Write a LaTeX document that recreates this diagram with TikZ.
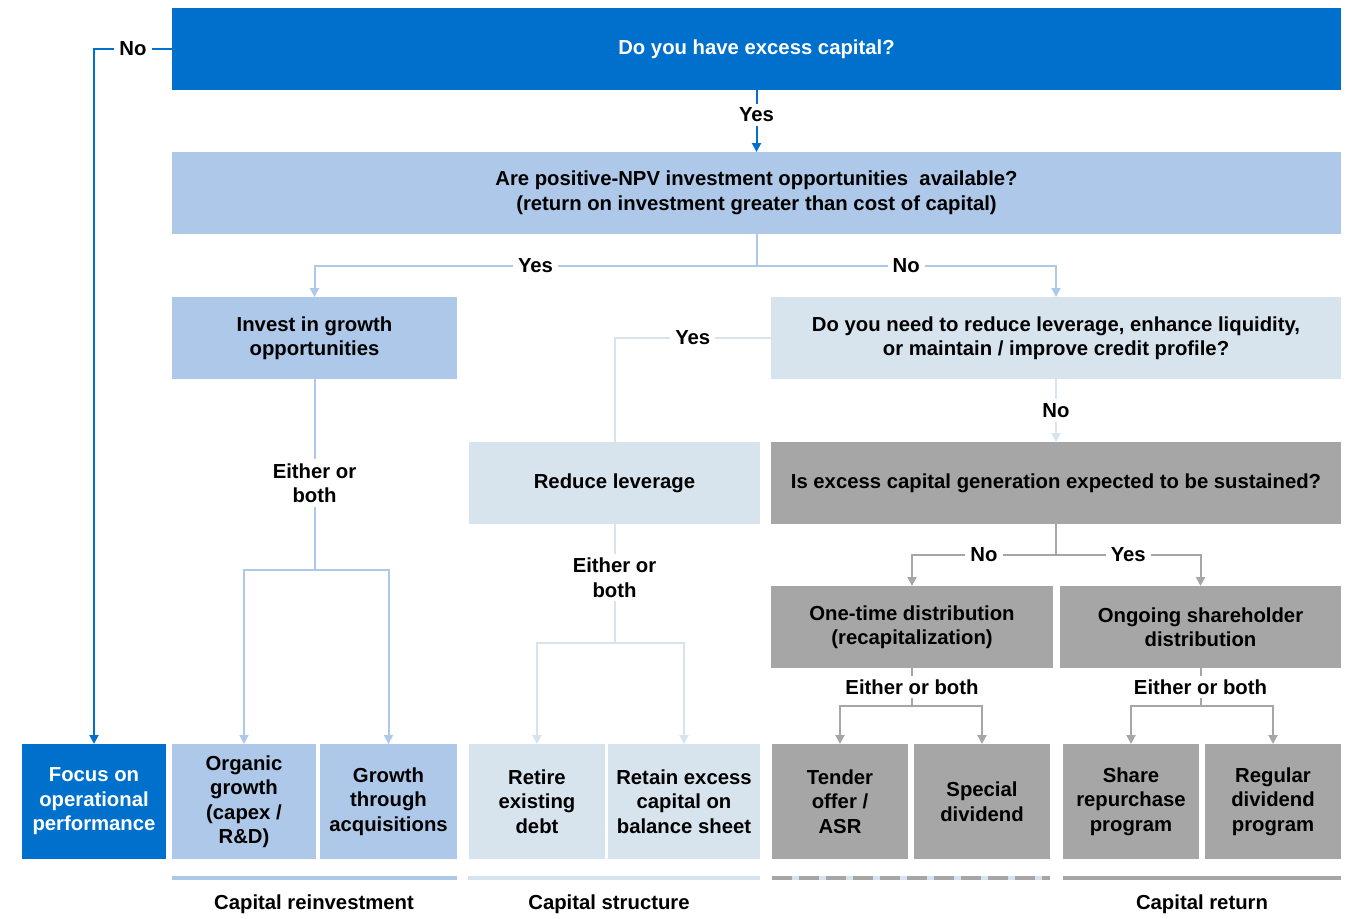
\documentclass[tikz,border=0pt]{standalone}
\usepackage{fontspec}
\setmainfont{Liberation Sans}
\usepackage{tikz}
\usetikzlibrary{arrows.meta,positioning,calc}
\definecolor{capblue}{RGB}{0,112,205}
\definecolor{capmidblue}{RGB}{173,200,232}
\definecolor{cappaleblue}{RGB}{215,228,238}
\definecolor{capgray}{RGB}{166,166,166}
\tikzstyle{block} = [rectangle, anchor=north west, inner sep=0pt, outer sep=0pt, minimum height=82pt, align=center, font=\bfseries\fontsize{20.3}{24.5}\selectfont]
\tikzstyle{darkblock} = [block, fill=capblue, text=white]
\tikzstyle{midblock} = [block, fill=capmidblue]
\tikzstyle{paleblock} = [block, fill=cappaleblue]
\tikzstyle{grayblock} = [block, fill=capgray]
\tikzstyle{leaf} = [minimum height=115pt]
\tikzstyle{lbl} = [fill=white, text=black, inner xsep=5pt, inner ysep=4pt, align=center, font=\bfseries\fontsize{20.3}{24.5}\selectfont]
\tikzstyle{catlabel} = [inner sep=0pt, font=\bfseries\fontsize{20.3}{24.5}\selectfont]
\tikzstyle{darkline} = [line width=2pt, -{Triangle[width=9pt,length=9pt]}, color=capblue]
\tikzstyle{midline} = [line width=2pt, -{Triangle[width=9pt,length=9pt]}, color=capmidblue]
\tikzstyle{paleline} = [line width=2pt, -{Triangle[width=9pt,length=9pt]}, color=cappaleblue]
\tikzstyle{grayline} = [line width=2pt, -{Triangle[width=9pt,length=9pt]}, color=capgray]

\begin{document}
\begin{tikzpicture}[x=1pt, y=-1pt]
\useasboundingbox (0,0) rectangle (1359,918);

% Questions
\node[darkblock, minimum width=1169pt] (excess) at (172,8) {Do you have excess capital?};
\node[midblock, minimum width=1169pt] (npv) at (172,152) {Are positive-NPV investment opportunities\ \ available?\\(return on investment greater than cost of capital)};
\node[midblock, minimum width=285pt] (invest) at (172,297) {Invest in growth\\opportunities};
\node[paleblock, minimum width=570pt] (lev) at (771,297) {Do you need to reduce leverage, enhance liquidity,\\or maintain / improve credit profile?};
\node[paleblock, minimum width=291pt] (reduce) at (469,442) {Reduce leverage};
\node[grayblock, minimum width=570pt] (sust) at (771,442) {Is excess capital generation expected to be sustained?};
\node[grayblock, minimum width=282pt] (onetime) at (771,586) {One-time distribution\\(recapitalization)};
\node[grayblock, minimum width=281pt] (ongoing) at (1060,586) {Ongoing shareholder\\distribution};

% Actions
\node[darkblock, leaf, minimum width=144pt] (focus) at (22,744) {Focus on\\operational\\performance};
\node[midblock, leaf, minimum width=144pt] (organic) at (172,744) {Organic\\growth\\(capex /\\R\&D)};
\node[midblock, leaf, minimum width=137pt] (growth) at (320,744) {Growth\\through\\acquisitions};
\node[paleblock, leaf, minimum width=136pt] (retire) at (469,744) {Retire\\existing\\debt};
\node[paleblock, leaf, minimum width=152pt] (retain) at (608,744) {Retain excess\\capital on\\balance sheet};
\node[grayblock, leaf, minimum width=136pt] (tender) at (772,744) {Tender\\offer /\\ASR};
\node[grayblock, leaf, minimum width=136pt] (special) at (914,744) {Special\\dividend};
\node[grayblock, leaf, minimum width=136pt] (buyback) at (1063,744) {Share\\repurchase\\program};
\node[grayblock, leaf, minimum width=136pt] (regular) at (1205,744) {Regular\\dividend\\program};

% Decisions
\draw[darkline] (excess.west) -| (focus.north) node[lbl, pos=0.25] {No};
\draw[darkline] (excess.south) -- (npv.north) node[lbl, pos=0.4] {Yes};

\draw[midline, -] (npv.south) -- ++(0,32) coordinate (npvsplit);
\draw[midline] (npvsplit) -| (invest.north) node[lbl, pos=0.25] {Yes};
\draw[midline] (npvsplit) -| (lev.north) node[lbl, pos=0.25] {No};

\draw[paleline, -] (lev.west) -| (reduce.north) node[lbl, pos=0.25] {Yes};
\draw[paleline] (lev.south) -- (sust.north) node[lbl, midway] {No};

\draw[grayline, -] (sust.south) -- ++(0,31) coordinate (sustsplit);
\draw[grayline] (sustsplit) -| (onetime.north) node[lbl, pos=0.25] {No};
\draw[grayline] (sustsplit) -| (ongoing.north) node[lbl, pos=0.25] {Yes};

% Either or both
\draw[midline, -] (invest.south) -- ++(0,191) coordinate (investsplit) node[lbl, pos=0.545] {Either or\\both};
\draw[midline] (investsplit) -| (organic.north);
\draw[midline] (investsplit) -| (growth.north);

\draw[paleline, -] (reduce.south) -- ++(0,119) coordinate (reducesplit) node[lbl, pos=0.45] {Either or\\both};
\draw[paleline] (reducesplit) -| (retire.north);
\draw[paleline] (reducesplit) -| (retain.north);

\draw[grayline, -] (onetime.south) -- ++(0,38) coordinate (onetimesplit) node[lbl, midway] {Either or both};
\draw[grayline] (onetimesplit) -| (tender.north);
\draw[grayline] (onetimesplit) -| (special.north);

\draw[grayline, -] (ongoing.south) -- ++(0,38) coordinate (ongoingsplit) node[lbl, midway] {Either or both};
\draw[grayline] (ongoingsplit) -| (buyback.north);
\draw[grayline] (ongoingsplit) -| (regular.north);

% Categories
\fill[capmidblue] (172,876) rectangle (457,880);
\fill[cappaleblue] (468,876) rectangle (760,880);
\fill[cappaleblue] (772,876) rectangle (1050,880);
\draw[capgray, line width=4pt, dash pattern=on 20pt off 7pt] (772,878) -- (1050,878);
\fill[capgray] (1063,876) rectangle (1341,880);
\node[catlabel] (reinvest) at (314,904) {Capital reinvestment};
\node[catlabel] (structure) at (609,904) {Capital structure};
\node[catlabel] (payout) at (1202,904) {Capital return};
\end{tikzpicture}
\end{document}
